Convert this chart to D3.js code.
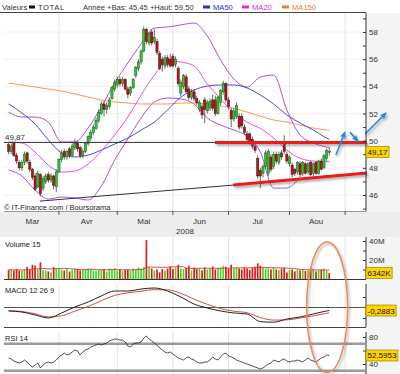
<!DOCTYPE html>
<html>
<head>
<meta charset="utf-8">
<script src="https://cdn.jsdelivr.net/npm/d3@7"></script>
<style>
  body { margin: 0; background: #fff; }
  svg { display: block; font-family: "Liberation Sans", Arial, sans-serif; }
</style>
</head>
<body>
<div id="chart"></div>
<script>
"use strict";

// == DATA ==
var months = ["Mar", "Avr", "Mai", "Jun", "Jul", "Aou"];
var monthDays = [19, 22, 21, 21, 23, 21];   // trading days per month

var open = [
  49.7,49.2,49.8,48.9,48.4,48.0,48.4,49.1,48.4,47.9, 47.4,46.6,47.5,46.5,47.0,47.5,47.1,47.4,46.6,
  47.7,48.6,49.2,48.8,49.4,48.9,49.5,49.8,49.5,48.9, 49.2,49.8,50.2,50.6,50.9,51.5,52.0,52.7,52.3,52.5,53.1,53.8,
  54.1,54.5,54.2,54.5,53.8,53.5,53.9,54.8,55.3,55.8, 56.6,58.2,57.2,58.0,57.3,57.3,56.4,56.0,55.5,56.1,56.0,
  56.2,55.6,55.3,53.5,54.0,54.7,53.8,53.2,53.6,53.1, 52.3,52.5,53.0,52.2,52.4,53.0,53.0,52.0,52.8,53.6,54.2,
  53.0,52.2,51.6,51.8,51.8,51.8,51.0,50.5,50.5,50.1,49.6, 48.7,47.8,47.6,48.1,47.6,48.8,48.1,49.0,48.4,49.1,49.8,49.0,
  48.3,48.2,47.9,47.7,48.3,47.6,48.3,47.7,48.4,47.6,48.4,47.6,48.5,48.0,48.7,49.2
];
var high = [
  49.9,49.8,49.9,49.1,48.6,48.6,49.2,49.2,48.6,48.0, 47.6,47.8,47.6,47.4,47.6,47.7,47.6,47.5,47.9,
  48.7,49.3,49.4,49.3,49.5,49.8,50.1,50.0,49.6,49.4, 49.9,50.4,50.8,51.2,51.7,52.3,52.9,52.9,52.8,53.2,54.0,54.5,
  54.7,54.7,54.7,54.6,54.0,54.0,54.6,55.5,56.0,56.7, 58.4,58.3,58.0,58.2,58.2,57.5,56.6,56.2,56.3,56.3,56.4,
  56.4,56.2,55.5,54.5,54.9,54.9,54.0,53.8,53.8,53.3, 53.0,52.7,53.2,53.0,53.1,53.4,53.3,53.3,53.8,54.4,54.3,
  53.2,52.4,52.4,52.8,52.0,52.0,51.2,50.7,50.6,50.3,50.0, 48.9,48.0,48.3,49.3,49.4,49.0,49.2,49.2,49.2,49.3,50.4,49.2,
  48.9,48.4,48.0,48.5,48.5,48.5,48.4,48.4,48.5,48.4,48.5,48.6,48.7,49.0,49.4,49.5
];
var low = [
  49.0,49.0,48.8,48.3,47.8,47.8,48.2,48.3,47.7,47.1, 46.3,46.5,45.9,46.3,46.8,46.9,46.9,46.4,46.2,
  47.6,48.4,48.6,48.6,48.7,48.8,49.3,49.2,48.7,48.7, 49.1,49.6,50.0,50.4,50.8,51.3,51.9,51.8,52.0,52.3,53.0,53.6,
  53.9,54.0,54.0,53.7,53.1,53.3,53.8,54.6,55.1,55.6, 56.5,57.1,57.0,57.0,57.1,56.3,55.2,55.1,55.3,55.4,55.4,
  55.4,55.4,54.0,53.3,53.8,53.5,53.0,53.0,52.9,52.6, 52.1,51.6,51.3,52.0,52.2,52.2,51.8,51.9,52.6,53.4,52.8,
  52.3,51.0,51.4,51.6,50.8,50.9,50.4,49.9,49.7,49.4,49.1, 47.2,46.5,47.3,47.9,47.4,47.7,47.9,48.3,48.2,48.6,49.0,48.3,
  48.1,47.3,47.4,47.5,47.3,47.4,47.5,47.5,47.4,47.4,47.5,47.5,47.8,47.9,48.5,48.9
];
var close = [
  49.2,49.6,48.9,48.5,48.0,48.4,49.0,48.5,47.9,47.3, 46.4,47.6,46.1,47.2,47.4,47.1,47.4,46.7,47.7,
  48.6,49.1,48.8,49.2,48.9,49.6,49.8,49.4,48.9,49.2, 49.8,50.3,50.6,51.0,51.5,52.1,52.7,52.3,52.6,53.0,53.9,54.3,
  54.5,54.2,54.5,53.8,53.4,53.9,54.5,55.4,55.8,56.6, 58.2,57.3,57.9,57.2,57.6,56.5,55.3,55.6,56.1,55.6,55.5,
  55.5,56.0,54.2,54.3,54.8,53.6,53.2,53.6,53.1,52.8, 52.8,51.9,52.3,52.8,52.9,52.4,52.0,53.2,53.7,54.2,53.0,
  52.5,51.6,52.2,52.6,51.0,51.1,50.6,50.1,49.9,49.6,49.3, 47.4,47.4,48.1,49.1,49.2,47.9,49.0,48.5,49.0,48.8,49.2,48.5,
  48.8,47.5,47.6,48.4,47.5,48.4,47.6,48.3,47.5,48.3,47.6,48.5,47.9,48.9,49.3,49.17
];
var volume = [   // millions
  9.5,10,9,10.5,9,8.5,10,12.5,10,15, 14,10,17.5,9.5,9,8,7,12.5,11,
  11.5,10,9,11,8,9.5,11,10.5,9,10, 10,11,10.5,9,8.5,10,9.5,10.5,8,11,10,11.5,
  9,10,8.5,9.5,10,9,11,10,12,11, 12.5,41,12.5,11,9,10,7,10.5,9,11,13,
  10.5,12,15,11,10.5,12,14,9,12,10.5, 11,9,12,10,11,13,10,11.5,12,14,13,
  11,15,11,12.5,11,10,12,11,9.5,12,13, 16.5,14,12,11,11.5,10,12,10,9.5,11,12,7,
  9.5,10,8,10,9,10.5,8.5,9,11,10,8,9.5,10,11,9,6.342
];
var rsi = [
  48.9,47.4,44.4,43,41.5,43,45.9,43,38.5,35.5, 38.5,41.5,34.1,38.5,41.5,43,41.5,43,45.9,
  50.4,53.3,56.3,53.3,54.8,57.8,60.7,59.3,53.3,57.8, 60.7,62.2,65.2,66.7,68.1,69.6,68.1,69.6,71.1,74.1,75.5,77,
  77,75.5,75.5,72.6,66.7,65.2,69.6,71.1,71.1,72.6, 78.5,81.5,77,74.1,71.1,68.1,63.7,60.7,57.8,56.3,57.8,
  54.8,51.9,48.9,47.4,45.9,48.9,50.4,47.4,45.9,43, 41.5,41.5,43,43,45.9,50.4,47.4,45.9,50.4,54.8,56.3,
  51.9,50.4,48.9,45.9,44.4,43,41.5,40,38.5,37,35.5, 34.1,32.6,34.1,37,40,41.5,45.9,44.4,43,45.9,47.4,44.4,
  43,44.4,44.4,45.9,44.4,43,45.9,48.9,45.9,44.4,43,45.9,48.9,50.4,53.3,52.5953
];

// smooth indicator lines, sampled every 5 sessions
var maIdx = [0,5,10,15,20,25,30,35,40,45,50,55,60,65,70,75,80,85,90,95,100,105,110,115,120,121];
var ma20 = [49.9,49.83,49.16,48.2,47.69,47.76,48.28,49.24,50.41,51.74,53.36,54.83,55.86,55.79,55.5,54.17,53.07,52.04,51.37,50.9,50.2,49.31,48.7,48.5,48.45,48.47];
var ma50 = [52.7,52.04,51.22,50.05,49.09,48.8,48.94,49.31,49.75,50.19,50.78,51.37,52.26,53.21,53.73,54.02,54.1,54.1,53.88,53.36,52.7,51.89,51.3,50.78,50.19,50.1];
var ma150 = [54.24,54.1,53.95,53.8,53.66,53.44,53.21,52.99,52.85,52.77,52.7,52.7,52.7,52.77,52.77,52.7,52.55,52.4,52.1,51.81,51.52,51.37,51.15,50.93,50.78,50.75];
var bbUp = [52.1,51.74,51.74,51.37,49.9,49.9,50.93,52.48,54.24,55.72,57.12,58.29,58.37,58.52,58.66,57.7,55.94,54.54,53.95,54.69,54.83,52.26,50.41,49.83,49.53,49.5];
var bbLow = [47.84,47.4,46.36,45.7,45.85,45.78,45.63,46.66,48.57,50.12,51.67,52.85,53.14,53.07,52.7,51.67,51.15,50.78,50.34,49.16,46.51,46.51,47.17,47.32,47.4,47.42];
var macd = [-0.33,-0.43,-0.71,-1.0,-0.52,0.05,0.52,1.1,1.57,1.57,1.76,1.86,1.57,1.0,0.33,-0.05,-0.33,-0.52,-0.62,-1.35,-1.4,-1.1,-0.9,-0.62,-0.33,-0.2883];
var signal = [-0.30,-0.38,-0.6,-0.9,-0.78,-0.35,0.1,0.65,1.15,1.4,1.55,1.7,1.68,1.35,0.8,0.3,-0.1,-0.35,-0.5,-0.95,-1.2,-1.18,-1.0,-0.8,-0.55,-0.52];

var refPrice = 49.87;
// hand drawn marks, in (session, price)
var supportOld = [[11.8, 45.55], [84.7, 46.73]];
var supportNew = [[84.7, 46.73], [135.2, 47.62]];
var resistance = [[77.9, 49.87], [135.2, 49.87]];
var arrows = [
  [[123.5, 48.94], [126.9, 50.63]],
  [[128.8, 50.63], [131.8, 49.97]],
  [[134.5, 50.49], [142.4, 52.04]]
];

// == BOILERPLATE ==
var width = 400, height = 374;
var plotL = 4, plotR = 366;
var svg = d3.select("#chart").append("svg")
    .attr("width", width)
    .attr("height", height);

var defs = svg.append("defs");
var flt = defs.append("filter").attr("id", "shadow")
    .attr("filterUnits", "userSpaceOnUse")
    .attr("x", 0).attr("y", 0).attr("width", width).attr("height", height);
flt.append("feDropShadow").attr("dx", 1.5).attr("dy", 2).attr("stdDeviation", 0.8)
    .attr("flood-color", "#666").attr("flood-opacity", 0.55);
defs.append("marker").attr("id", "arrow")
    .attr("viewBox", "0 0 8 8").attr("refX", 7).attr("refY", 4)
    .attr("markerWidth", 7).attr("markerHeight", 7)
    .attr("markerUnits", "userSpaceOnUse").attr("orient", "auto")
  .append("path").attr("d", "M0,0.5 L8,4 L0,7.5 L2,4 z").attr("fill", "#2a85dd");

var x = d3.scaleLinear().domain([0, 121]).range([8.6, 329.25]);
var y = d3.scaleLinear().domain([46, 58]).range([195, 32]);
var yVol = d3.scaleLinear().domain([0, 40]).range([279, 241]);
var yMacd = d3.scaleLinear().domain([-1, 1]).range([318, 297]);
var yRsi = d3.scaleLinear().domain([40, 80]).range([364, 337]);

var monthEnds = d3.cumsum(monthDays);
var monthStarts = [0].concat(Array.from(monthEnds).slice(0, -1));

var panels = [[13, 211], [237, 279], [284, 327], [332, 374]];

// backgrounds
svg.append("rect").attr("width", width).attr("height", height).attr("fill", "#fff");
svg.append("rect").attr("x", 0).attr("y", 212).attr("width", width).attr("height", 25).attr("fill", "#ededed");
svg.append("rect").attr("x", plotR).attr("y", 13).attr("width", width - plotR).attr("height", 199).attr("fill", "#f4f4f4");
svg.append("rect").attr("x", plotR).attr("y", 237).attr("width", width - plotR).attr("height", 137).attr("fill", "#f4f4f4");

// grid
panels.forEach(function(p) {
  svg.append("g").selectAll("line")
    .data(Array.from(monthEnds))
    .enter().append("line")
      .attr("x1", function(d) { return x(d); })
      .attr("x2", function(d) { return x(d); })
      .attr("y1", p[0]).attr("y2", p[1])
      .attr("stroke", "#e3e3e3");
});
svg.append("g").selectAll("line")
  .data(d3.range(46, 60, 2))
  .enter().append("line")
    .attr("x1", plotL).attr("x2", plotR)
    .attr("y1", function(d) { return y(d); })
    .attr("y2", function(d) { return y(d); })
    .attr("stroke", "#f0f0f0");

// header
var header = svg.append("g").attr("font-size", 7.6).attr("fill", "#333");
header.append("text").attr("x", 2).attr("y", 10).text("Valeurs");
header.append("rect").attr("x", 29).attr("y", 5.5).attr("width", 6).attr("height", 3).attr("fill", "#111");
header.append("text").attr("x", 38).attr("y", 10).attr("letter-spacing", 0.6).text("TOTAL");
header.append("text").attr("x", 83).attr("y", 10).text("Année +Bas: 45,45 +Haut: 59,50");
var legend = [["MA50", "#2a2ad8", 203], ["MA20", "#e02ae0", 242], ["MA150", "#f07a30", 282]];
legend.forEach(function(l) {
  header.append("rect").attr("x", l[2]).attr("y", 5.5).attr("width", 7).attr("height", 3).attr("fill", l[1]);
  header.append("text").attr("x", l[2] + 10).attr("y", 10).attr("fill", l[1]).text(l[0]);
});
svg.append("line").attr("x1", 0).attr("x2", plotR).attr("y1", 12.5).attr("y2", 12.5)
    .attr("stroke", "#444");

// == MAIN PANEL ==
var lineMa = function(vals) {
  return d3.line()
    .x(function(d, k) { return x(maIdx[k]); })
    .y(function(d) { return y(d); })
    .curve(d3.curveMonotoneX)(vals);
};
[[bbUp, "#9a3fd0"], [bbLow, "#9a3fd0"], [ma150, "#f58a45"], [ma50, "#3535d5"], [ma20, "#e23ae2"]]
  .forEach(function(s) {
    svg.append("path").attr("d", lineMa(s[0]))
      .attr("fill", "none").attr("stroke", s[1]).attr("stroke-width", 0.9);
  });

var candles = close.map(function(c, i) {
  return { i: i, o: open[i], h: high[i], l: low[i], c: c };
});
var cg = svg.append("g");
cg.selectAll("line").data(candles).enter().append("line")
    .attr("x1", function(d) { return x(d.i); })
    .attr("x2", function(d) { return x(d.i); })
    .attr("y1", function(d) { return y(d.h); })
    .attr("y2", function(d) { return y(d.l); })
    .attr("stroke", "#444").attr("stroke-width", 0.8);
cg.selectAll("rect").data(candles).enter().append("rect")
    .attr("x", function(d) { return x(d.i) - 1.1; })
    .attr("width", 2.2)
    .attr("y", function(d) { return y(Math.max(d.o, d.c)); })
    .attr("height", function(d) { return Math.max(0.8, Math.abs(y(d.o) - y(d.c))); })
    .attr("fill", function(d) {
      if (d.i === close.length - 1) return "#e8e8e8";
      return d.c >= d.o ? "#2fc42f" : "#b3161b";
    })
    .attr("stroke", function(d) { return d.c >= d.o ? "#185c18" : "#4a0a0a"; })
    .attr("stroke-width", 0.5);

// reference close
svg.append("line").attr("x1", plotL).attr("x2", plotR)
    .attr("y1", y(refPrice)).attr("y2", y(refPrice))
    .attr("stroke", "#333").attr("stroke-width", 1);
svg.append("text").attr("x", 5).attr("y", y(refPrice) - 2.5)
    .attr("font-size", 8).attr("fill", "#333").text("49,87");

// hand drawn lines
var px = d3.line().x(function(d) { return x(d[0]); }).y(function(d) { return y(d[1]); });
svg.append("path").attr("d", px(supportOld)).attr("stroke", "#333").attr("stroke-width", 1).attr("fill", "none");
[supportNew, resistance].forEach(function(seg) {
  svg.append("path").attr("d", px(seg))
    .attr("stroke", "#ea1f1f").attr("stroke-width", 3).attr("fill", "none")
    .attr("filter", "url(#shadow)");
});
arrows.forEach(function(a) {
  svg.append("path").attr("d", px(a))
    .attr("stroke", "#2a85dd").attr("stroke-width", 1.6).attr("fill", "none")
    .attr("marker-end", "url(#arrow)").attr("filter", "url(#shadow)");
});

svg.append("text").attr("x", 4).attr("y", 210)
    .attr("font-size", 7.5).attr("fill", "#222")
    .text("\u00a9 IT-Finance.com / Boursorama");

// bottom axis with months
svg.append("line").attr("x1", plotL).attr("x2", plotR).attr("y1", 211.5).attr("y2", 211.5).attr("stroke", "#999");
svg.append("g").selectAll("line").data(Array.from(monthEnds)).enter().append("line")
    .attr("x1", function(d) { return x(d); }).attr("x2", function(d) { return x(d); })
    .attr("y1", 211).attr("y2", 215).attr("stroke", "#555");
svg.append("g").selectAll("text").data(months).enter().append("text")
    .attr("x", function(d, k) { return x(monthStarts[k] + monthDays[k] / 2 - 0.5); })
    .attr("y", 224).attr("text-anchor", "middle")
    .attr("font-size", 8).attr("fill", "#333")
    .text(function(d) { return d; });
svg.append("text").attr("x", 185).attr("y", 234).attr("text-anchor", "middle")
    .attr("font-size", 8).attr("fill", "#333").text("2008");

// right axes
function rightAxis(scale, ticks, fmt) {
  var g = svg.append("g").attr("transform", "translate(" + (plotR - 3) + ",0)")
      .call(d3.axisRight(scale).tickValues(ticks).tickSize(3).tickPadding(3).tickFormat(fmt));
  g.attr("font-size", 8).attr("font-family", "Liberation Sans, Arial, sans-serif");
  g.select(".domain").remove();
  g.selectAll("line").attr("stroke", "#333");
  g.selectAll("text").attr("fill", "#333");
}
rightAxis(y, d3.range(45, 60), function(d) { return d % 2 === 0 ? d : ""; });
rightAxis(yVol, [10, 20, 30, 40], function(d) { return d % 20 === 0 ? d + "M" : ""; });
rightAxis(yMacd, [-1, 1], function() { return ""; });
rightAxis(yRsi, [40, 60, 80], function(d) { return d === 60 ? "" : d; });
panels.forEach(function(p) {
  svg.append("line").attr("x1", plotR).attr("x2", plotR).attr("y1", p[0]).attr("y2", p[1])
      .attr("stroke", "#333");
});

// == VOLUME ==
svg.append("text").attr("x", 5).attr("y", 247).attr("font-size", 7.5).attr("fill", "#222").text("Volume 15");
svg.append("g").selectAll("rect").data(candles).enter().append("rect")
    .attr("x", function(d) { return x(d.i) - 0.85; })
    .attr("width", 1.7)
    .attr("y", function(d) { return yVol(volume[d.i]); })
    .attr("height", function(d) { return yVol(0) - yVol(volume[d.i]); })
    .attr("fill", function(d) { return d.c >= d.o ? "#4fd42c" : "#dc1c1c"; });
var volMa = volume.map(function(v, i) { return d3.mean(volume.slice(Math.max(0, i - 14), i + 1)); });
svg.append("path")
    .attr("d", d3.line().x(function(d, i) { return x(i); }).y(function(d) { return yVol(d); })(volMa))
    .attr("fill", "none").attr("stroke", "#d23a3a").attr("stroke-width", 0.9);
svg.append("line").attr("x1", plotL).attr("x2", plotR).attr("y1", 279.5).attr("y2", 279.5).attr("stroke", "#333");

// == MACD ==
svg.append("text").attr("x", 5).attr("y", 293).attr("font-size", 7.5).attr("fill", "#222").text("MACD 12 26 9");
svg.append("line").attr("x1", plotL).attr("x2", plotR).attr("y1", yMacd(0)).attr("y2", yMacd(0)).attr("stroke", "#555");
svg.append("line").attr("x1", plotL).attr("x2", plotR).attr("y1", 327.5).attr("y2", 327.5).attr("stroke", "#444");
var lineM = d3.line().x(function(d, k) { return x(maIdx[k]); }).y(function(d) { return yMacd(d); }).curve(d3.curveMonotoneX);
svg.append("path").attr("d", lineM(signal)).attr("fill", "none").attr("stroke", "#d9484f").attr("stroke-width", 1);
svg.append("path").attr("d", lineM(macd)).attr("fill", "none").attr("stroke", "#222").attr("stroke-width", 1);

// == RSI ==
svg.append("text").attr("x", 5).attr("y", 341).attr("font-size", 7.5).attr("fill", "#222").text("RSI 14");
[70, 30].forEach(function(lv) {
  svg.append("line").attr("x1", plotL).attr("x2", plotR).attr("y1", yRsi(lv)).attr("y2", yRsi(lv))
      .attr("stroke", "#9a9a9a").attr("stroke-width", 2.5);
});
svg.append("path")
    .attr("d", d3.line().x(function(d, i) { return x(i); }).y(function(d) { return yRsi(d); })(rsi))
    .attr("fill", "none").attr("stroke", "#222").attr("stroke-width", 0.8);

// value boxes
function valueBox(yv, txt) {
  var g = svg.append("g");
  var r = g.append("rect").attr("x", plotR).attr("y", yv - 5.5).attr("height", 11)
      .attr("fill", "#ffd400").attr("stroke", "#9c8400").attr("stroke-width", 0.7);
  var t = g.append("text").attr("x", plotR + 1.5).attr("y", yv + 3)
      .attr("font-size", 8).attr("fill", "#111").text(txt);
  r.attr("width", t.node().getComputedTextLength() + 3);
}
valueBox(y(close[close.length - 1]), "49,17");
valueBox(yVol(volume[volume.length - 1]), "6342K");
valueBox(yMacd(macd[macd.length - 1]), "-0,2883");
valueBox(yRsi(rsi[rsi.length - 1]), "52,5953");

// orange ellipse mark
svg.append("ellipse")
    .attr("cx", x(120.2)).attr("cy", (yVol(39) + yRsi(27.4)) / 2)
    .attr("rx", 20.5).attr("ry", (yRsi(27.4) - yVol(39)) / 2)
    .attr("fill", "none").attr("stroke", "#f08a4e").attr("stroke-width", 1.5)
    .attr("filter", "url(#shadow)");
</script>
</body>
</html>
